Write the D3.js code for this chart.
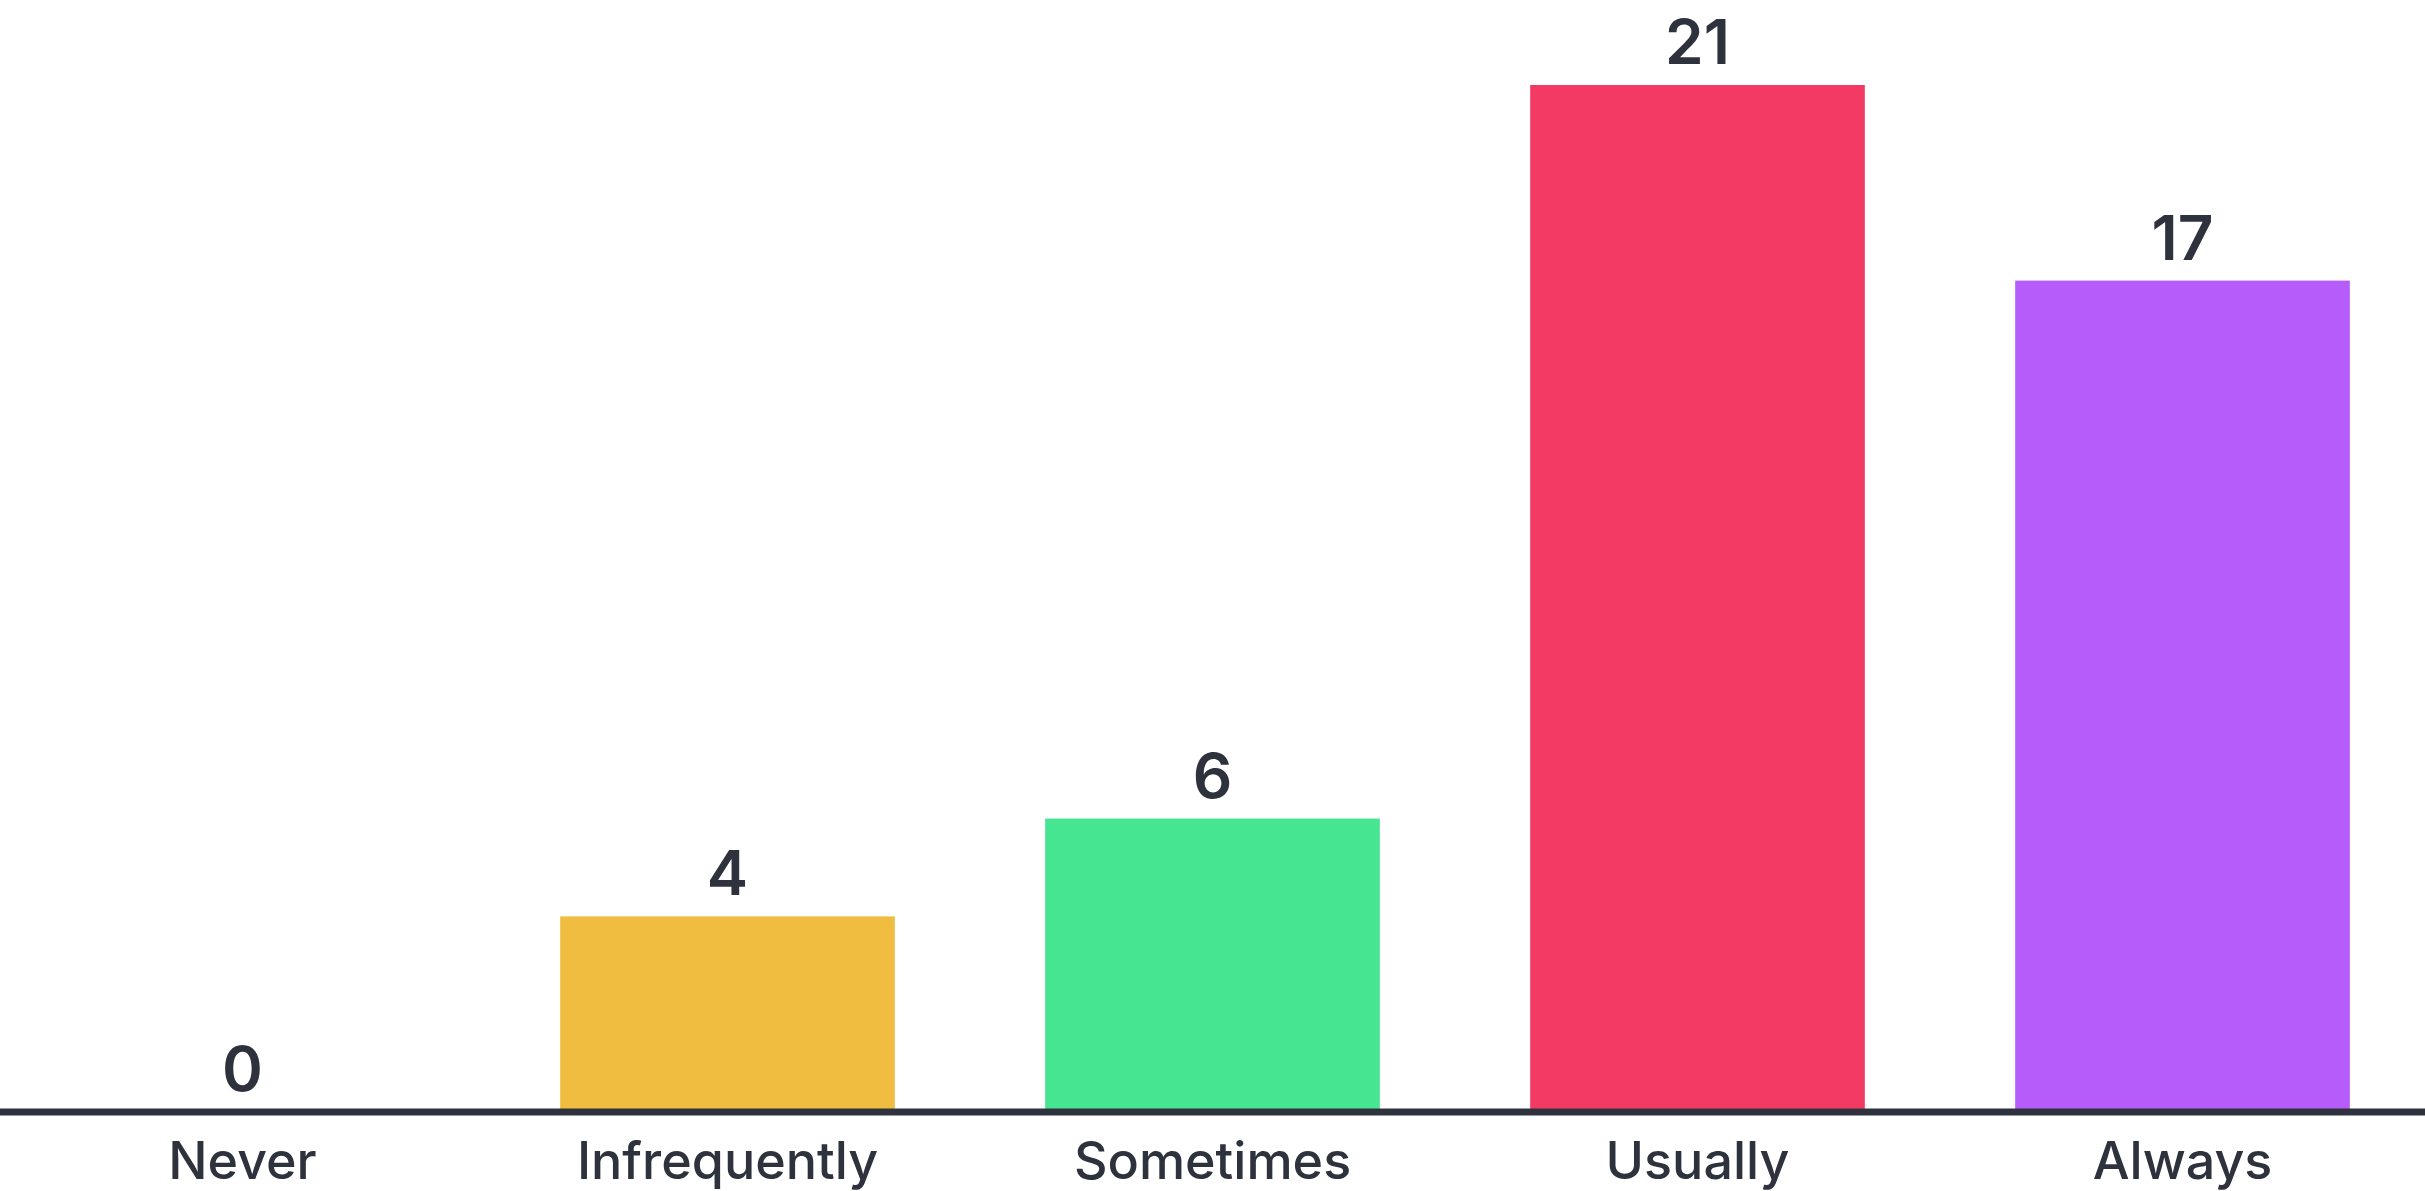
<!DOCTYPE html>
<html>
<head>
  <meta charset="utf-8">
  <style>
  body { margin: 0; background: #fff; }
  .value { font-family: Inter, "Noto Sans", sans-serif; font-weight: 600; fill: #2e323c; }
  .cat { font-family: Inter, "Noto Sans", sans-serif; font-weight: 500; fill: #2e323c; }
  </style>
</head>
<body>
  <script src="https://d3js.org/d3.v7.min.js"></script>
  <script>
    var categories = ["Never", "Infrequently", "Sometimes", "Usually", "Always"];
    var counts = [0, 4, 6, 21, 17];
    var colors = ["#f0bd40", "#f0bd40", "#46e592", "#f23a64", "#b65cfa"];

    var width = 2425, height = 1191;
    var baseY = 1112;

    var svg = d3.select("body").append("svg")
        .attr("width", width)
        .attr("height", height);

    var x = d3.scaleBand()
        .domain(categories)
        .range([0, width])
        .paddingInner(0.31)
        .paddingOuter(0.155);

    var y = d3.scaleLinear()
        .domain([0, 21])
        .range([baseY, 85]);

    var data = categories.map(function(c, i) { return { cat: c, n: counts[i], color: colors[i] }; });

    svg.append("g").selectAll("rect")
        .data(data)
      .enter().append("rect")
        .attr("x", function(d) { return x(d.cat); })
        .attr("y", function(d) { return y(d.n); })
        .attr("width", x.bandwidth())
        .attr("height", function(d) { return baseY - y(d.n); })
        .attr("fill", function(d) { return d.color; });

    // value labels
    svg.append("g").selectAll("text")
        .data(data)
      .enter().append("text")
        .attr("class", "value")
        .attr("x", function(d) { return x(d.cat) + x.bandwidth() / 2; })
        .attr("y", function(d) { return y(d.n) - 21; })
        .attr("text-anchor", "middle")
        .attr("font-size", 62)
        .text(function(d) { return d.n; });

    // baseline axis
    var axis = svg.append("g")
        .attr("transform", "translate(0," + baseY + ")")
        .call(d3.axisBottom(x).tickSize(0).tickPadding(30));

    axis.select(".domain")
        .attr("stroke", "#2e323c")
        .attr("stroke-width", 7)
        .attr("d", "M0,0H" + width);

    axis.selectAll(".tick text")
        .attr("class", "cat")
        .attr("font-size", 52)
        .attr("dy", "0.71em");
  </script>
</body>
</html>
